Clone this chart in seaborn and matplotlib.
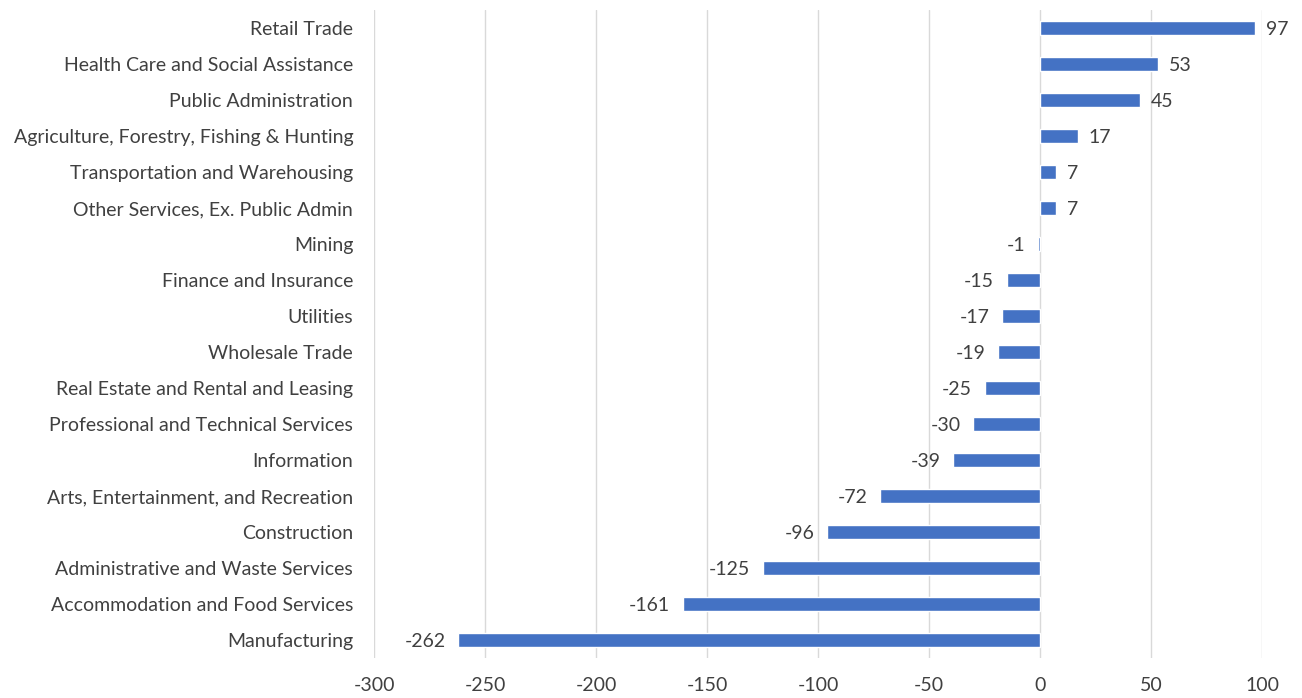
import matplotlib
matplotlib.use("Agg")
import matplotlib.pyplot as plt
import seaborn as sns
import pandas as pd

industries = [
    "Retail Trade",
    "Health Care and Social Assistance",
    "Public Administration",
    "Agriculture, Forestry, Fishing & Hunting",
    "Transportation and Warehousing",
    "Other Services, Ex. Public Admin",
    "Mining",
    "Finance and Insurance",
    "Utilities",
    "Wholesale Trade",
    "Real Estate and Rental and Leasing",
    "Professional and Technical Services",
    "Information",
    "Arts, Entertainment, and Recreation",
    "Construction",
    "Administrative and Waste Services",
    "Accommodation and Food Services",
    "Manufacturing",
]
changes = [97, 53, 45, 17, 7, 7, -1, -15, -17, -19, -25, -30, -39, -72, -96, -125, -161, -262]
x_ticks = [-300, -250, -200, -150, -100, -50, 0, 50, 100]

df = pd.DataFrame({"industry": industries, "change": changes})

sns.set_theme(style="white")
plt.rcParams["font.family"] = ["Lato", "DejaVu Sans"]

fs = 14
txt_color = "#404040"

fig = plt.figure(figsize=(13.02, 6.98), dpi=100)
ax = fig.add_axes([0.2873, 0.0573, 0.682, 0.928])

sns.barplot(data=df, x="change", y="industry", order=industries, orient="h",
            color="#4472C4", saturation=1, width=0.39, ax=ax, zorder=3)

ax.set_xlim(-300, 100)
ax.set_xticks(x_ticks)
ax.set_xticklabels([str(t) for t in x_ticks], fontsize=fs, color=txt_color)
ax.tick_params(axis="y", labelsize=fs, labelcolor=txt_color, length=0, pad=15)
ax.tick_params(axis="x", length=0, pad=14)
ax.set_xlabel("")
ax.set_ylabel("")
ax.set_ylim(len(industries) - 0.5, -0.5)
ax.grid(axis="x", color="#D9D9D9", linewidth=1, zorder=0)
ax.grid(axis="y", visible=False)
for s in ax.spines.values():
    s.set_visible(False)

for i, v in enumerate(changes):
    if v >= 0:
        ax.annotate(str(v), (v, i), xytext=(8, 0), textcoords="offset points",
                    ha="left", va="center_baseline", fontsize=fs, color=txt_color)
    else:
        ax.annotate(str(v), (v, i), xytext=(-9, 0), textcoords="offset points",
                    ha="right", va="center_baseline", fontsize=fs, color=txt_color)

fig.savefig("out.png", dpi=100)
